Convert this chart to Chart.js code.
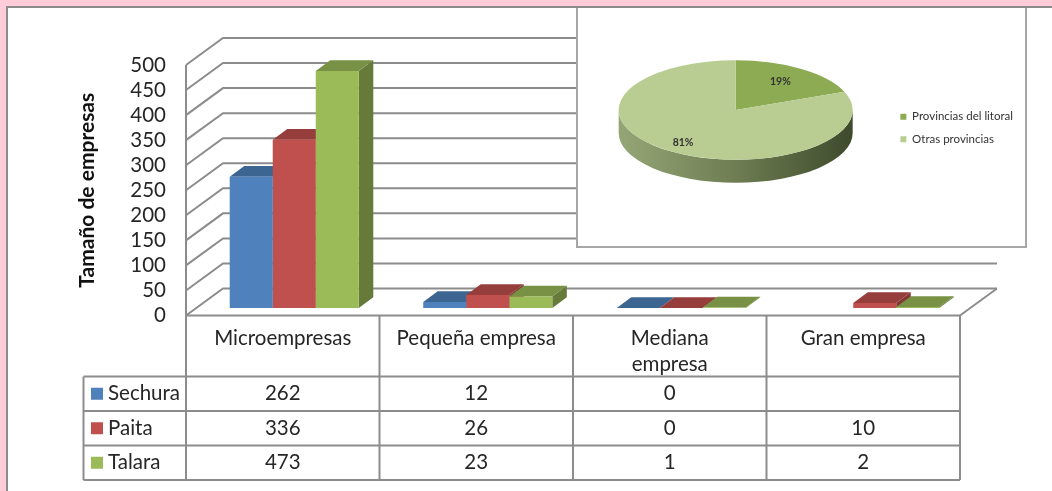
<!DOCTYPE html>
<html lang="es">
<head>
<meta charset="utf-8">
<title>Tamaño de empresas</title>
<script src="https://cdn.jsdelivr.net/npm/chart.js@4/dist/chart.umd.min.js"></script>
<style>
    html, body { margin: 0; height: 100%; overflow: hidden; background: #ffccd9; }
    .panel {
        position: absolute; left: 6px; top: 6px; right: 0; bottom: 0;
        background: #fff; border-left: 2px solid #8c8c8c; border-top: 2px solid #8c8c8c;
    }
    #miGrafico { position: absolute; left: 0; top: 0; }
    .inset {
        position: absolute; left: 576px; top: 8px; width: 447px; height: 238px;
        background: #fff; border: solid #a6a6a6; border-width: 0 2px 2px 2px;
    }
    #graficoTorta { position: absolute; left: -1px; top: 0; }
</style>
</head>
<body>
<div class="panel"></div>
<canvas id="miGrafico" width="1052" height="491"></canvas>
<div class="inset"><canvas id="graficoTorta" width="449" height="239"></canvas></div>

<script>
// ================== DATOS ==================

const categorias = ['Microempresas', 'Pequeña empresa', ['Mediana', 'empresa'], 'Gran empresa'];
const sechura = [262, 12, 0, null];
const paita = [336, 26, 0, 10];
const talara = [473, 23, 1, 2];

const tortaEtiquetas = ['Provincias del litoral', 'Otras provincias'];
const tortaValores = [19, 81];

// colores: frente, tapa, costado
const azul = ['#4f81bd', '#3d6592', '#36597f'];
const rojo = ['#c0504d', '#953e3b', '#823634'];
const verde = ['#9bbb59', '#789145', '#667a3a'];

const GRIS = '#8c8c8c';
const TEXTO = '#262626';
const FUENTE = 'Lato, sans-serif';
const TAM = 20.5;

// profundidad de la pared y de las barras
const pared = { dx: 37, dy: 27 };
const barra = { dx: 14.5, dy: 10.7, offX: 11.5, offY: 7.5 };

function linea(c, puntos) {
    c.beginPath();
    puntos.forEach((p, i) => i ? c.lineTo(p[0], p[1]) : c.moveTo(p[0], p[1]));
    c.stroke();
}

function poligono(c, puntos, color) {
    c.fillStyle = color;
    c.beginPath();
    puntos.forEach((p, i) => i ? c.lineTo(p[0], p[1]) : c.moveTo(p[0], p[1]));
    c.closePath();
    c.fill();
}

// ================== PAREDES Y BARRAS 3D ==================

const efecto3d = {
    id: 'efecto3d',
    beforeDatasetsDraw(chart) {
        const c = chart.ctx;
        const y = chart.scales.y;
        const a = chart.chartArea;

        c.save();
        c.strokeStyle = GRIS;
        c.lineWidth = 2;
        y.ticks.forEach(t => {
            const py = y.getPixelForValue(t.value);
            linea(c, [[a.left, py], [a.left + pared.dx, py - pared.dy], [a.right + pared.dx, py - pared.dy]]);
        });
        linea(c, [[a.left, a.top], [a.left, a.bottom]]);
        linea(c, [[a.right, a.bottom], [a.right + pared.dx, a.bottom - pared.dy]]);
        c.restore();

        // las barras van un poco adentro del piso
        c.save();
        c.translate(barra.offX, -barra.offY);
        chart.data.datasets.forEach((ds, i) => {
            chart.getDatasetMeta(i).data.forEach((el, j) => {
                if (ds.data[j] === null) return; // sin dato, sin barra
                const iz = el.x - el.width / 2;
                const de = el.x + el.width / 2;
                poligono(c, [[de, el.y], [de + barra.dx, el.y - barra.dy], [de + barra.dx, el.base - barra.dy], [de, el.base]], ds.colorCostado);
                poligono(c, [[iz, el.y], [iz + barra.dx, el.y - barra.dy], [de + barra.dx, el.y - barra.dy], [de, el.y]], ds.colorTapa);
            });
        });
    },
    afterDatasetsDraw(chart) {
        chart.ctx.restore();
    }
};

// ================== TABLA DE DATOS ==================

const tablaDatos = {
    id: 'tablaDatos',
    afterDraw(chart) {
        const c = chart.ctx;
        const a = chart.chartArea;
        const x = chart.scales.x;
        const filas = [376.5, 411, 445.5, 480];
        const izq = 83.5;
        const anchoCol = x.getPixelForValue(1) - x.getPixelForValue(0);

        c.save();
        c.strokeStyle = GRIS;
        c.lineWidth = 2;
        linea(c, [[a.left, a.bottom], [a.right, a.bottom]]);
        filas.forEach(f => linea(c, [[izq, f], [a.right, f]]));
        linea(c, [[izq, filas[0]], [izq, filas[3]]]);
        categorias.forEach((_, i) => {
            linea(c, [[x.getPixelForValue(i) - anchoCol / 2, a.bottom], [x.getPixelForValue(i) - anchoCol / 2, filas[3]]]);
        });
        linea(c, [[a.right, a.bottom], [a.right, filas[3]]]);

        c.font = TAM + 'px ' + FUENTE;
        c.textBaseline = 'middle';
        chart.data.datasets.forEach((ds, i) => {
            const yFila = (filas[i] + filas[i + 1]) / 2;
            c.fillStyle = ds.backgroundColor;
            c.fillRect(91, yFila - 6, 12, 12);
            c.fillStyle = TEXTO;
            c.textAlign = 'left';
            c.fillText(ds.label, 108, yFila);
            c.textAlign = 'center';
            ds.data.forEach((v, j) => {
                if (v !== null) c.fillText(String(v), x.getPixelForValue(j), yFila);
            });
        });
        c.restore();
    }
};

const ctx = document.getElementById('miGrafico');

const grafico = new Chart(ctx, {
    type: 'bar',
    data: {
        labels: categorias,
        datasets: [
            { label: 'Sechura', data: sechura, backgroundColor: azul[0], colorTapa: azul[1], colorCostado: azul[2] },
            { label: 'Paita', data: paita, backgroundColor: rojo[0], colorTapa: rojo[1], colorCostado: rojo[2] },
            { label: 'Talara', data: talara, backgroundColor: verde[0], colorTapa: verde[1], colorCostado: verde[2] }
        ]
    },
    options: {
        responsive: false,
        animation: false,
        categoryPercentage: 0.667,
        barPercentage: 1,
        layout: { padding: { left: 0, right: 92, top: 65, bottom: 0 } },
        plugins: {
            legend: { display: false },
            tooltip: { enabled: false }
        },
        scales: {
            x: {
                border: { display: false },
                grid: { display: false },
                ticks: {
                    color: TEXTO,
                    font: { family: FUENTE, size: TAM, lineHeight: 1.27 },
                    padding: 2,
                    maxRotation: 0,
                    autoSkip: false
                },
                afterFit(scale) { scale.height = 175.5; }
            },
            y: {
                min: 0,
                max: 500,
                border: { display: false },
                grid: { display: false },
                ticks: {
                    stepSize: 50,
                    autoSkip: false,
                    color: TEXTO,
                    font: { family: FUENTE, size: TAM },
                    padding: 12
                },
                title: {
                    display: true,
                    text: 'Tamaño de empresas',
                    color: '#111',
                    font: { family: FUENTE, size: 21, weight: 'bold' },
                    padding: { top: 75, bottom: 0 }
                },
                afterFit(scale) { scale.width = 186; }
            }
        }
    },
    plugins: [efecto3d, tablaDatos]
});

// ================== TORTA ==================

const tortaAspecto = { sx: 117 / 102, sy: 49.7 / 102, canto: 23 };
const radioEtiqueta = [0.68, 0.8];

const torta3d = {
    id: 'torta3d',
    afterLayout(chart) {
        // la leyenda va mas abajo que el centro de la torta
        chart.legend.top += 18;
        chart.legend.bottom += 18;
    },
    beforeDatasetsDraw(chart) {
        const c = chart.ctx;
        const arco = chart.getDatasetMeta(0).data[0];
        const rx = arco.outerRadius * tortaAspecto.sx;
        const ry = arco.outerRadius * tortaAspecto.sy;

        const grad = c.createLinearGradient(arco.x - rx, 0, arco.x + rx, 0);
        grad.addColorStop(0, '#95a676');
        grad.addColorStop(0.5, '#6e7d52');
        grad.addColorStop(1, '#3e4a2c');
        c.fillStyle = grad;
        c.beginPath();
        c.ellipse(arco.x, arco.y + tortaAspecto.canto, rx, ry, 0, 0, Math.PI);
        c.ellipse(arco.x, arco.y, rx, ry, 0, Math.PI, 0, true);
        c.closePath();
        c.fill();

        c.save();
        c.translate(arco.x, arco.y);
        c.scale(tortaAspecto.sx, tortaAspecto.sy);
        c.translate(-arco.x, -arco.y);
    },
    afterDatasetsDraw(chart) {
        const c = chart.ctx;
        c.restore();

        const total = tortaValores.reduce((s, v) => s + v, 0);
        c.save();
        c.font = 'bold 10.5px ' + FUENTE;
        c.fillStyle = '#333';
        c.textAlign = 'center';
        c.textBaseline = 'middle';
        chart.getDatasetMeta(0).data.forEach((arco, i) => {
            const medio = (arco.startAngle + arco.endAngle) / 2;
            const r = arco.outerRadius * radioEtiqueta[i];
            const lx = arco.x + Math.cos(medio) * r * tortaAspecto.sx;
            const ly = arco.y + Math.sin(medio) * r * tortaAspecto.sy;
            c.fillText(Math.round(tortaValores[i] / total * 100) + '%', lx, ly);
        });
        c.restore();
    }
};

new Chart(document.getElementById('graficoTorta'), {
    type: 'pie',
    data: {
        labels: tortaEtiquetas,
        datasets: [{
            data: tortaValores,
            backgroundColor: ['#8cab52', '#b9cd92'],
            borderWidth: 0
        }]
    },
    options: {
        responsive: false,
        animation: false,
        layout: { padding: { left: 5, right: 3, top: 0, bottom: 35 } },
        plugins: {
            tooltip: { enabled: false },
            legend: {
                position: 'right',
                labels: {
                    boxWidth: 6,
                    boxHeight: 6,
                    padding: 11,
                    color: '#333',
                    font: { family: FUENTE, size: 11.5 }
                }
            }
        }
    },
    plugins: [torta3d]
});
</script>
</body>
</html>
